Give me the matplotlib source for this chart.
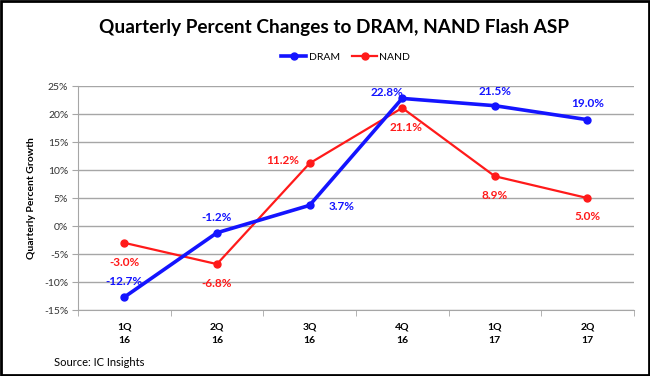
import matplotlib
matplotlib.use("Agg")
import matplotlib.pyplot as plt
import matplotlib.patches as mpatches

plt.rcParams["font.family"] = ["Lato", "DejaVu Sans"]

quarters = ["1Q\n16", "2Q\n16", "3Q\n16", "4Q\n16", "1Q\n17", "2Q\n17"]
dram = [-12.7, -1.2, 3.7, 22.8, 21.5, 19.0]
nand = [-3.0, -6.8, 11.2, 21.1, 8.9, 5.0]

# label offsets in points (dx, dy) for each data label
dram_off = [(0, 11.5), (0, 11), (23, -1), (-11, 4), (0, 10), (0, 11.5)]
nand_off = [(0, -14), (0, -14), (-19.5, 2), (3, -14), (0, -14), (0, -13)]

BLUE = "#1414ff"
RED = "#ff1a1a"

fig = plt.figure(figsize=(6.5, 3.76), dpi=100)
ax = fig.add_axes([0.12, 0.1755, 0.855, 0.5955])

x = list(range(len(quarters)))
ax.plot(x, dram, color=BLUE, lw=2.6, marker="o", ms=5, label="DRAM", zorder=4)
ax.plot(x, nand, color=RED, lw=1.6, marker="o", ms=5, label="NAND", zorder=3)

for i, v in enumerate(dram):
    ax.annotate(f"{v:.1f}%", (i, v), xytext=dram_off[i], textcoords="offset points",
                ha="center", va="center", color=BLUE, fontsize=8.5, fontweight="bold")
for i, v in enumerate(nand):
    ax.annotate(f"{v:.1f}%", (i, v), xytext=nand_off[i], textcoords="offset points",
                ha="center", va="center", color=RED, fontsize=8.5, fontweight="bold")

ax.set_xlim(-0.5, len(quarters) - 0.5)
ax.set_ylim(-15, 25)
ax.set_yticks(range(-15, 26, 5))
ax.set_yticklabels([f"{t}%" for t in range(-15, 26, 5)], fontsize=7.5, color="#333333")
ax.yaxis.grid(True, color="#a6a6a6", lw=1.0)
ax.set_axisbelow(True)

ax.set_xticks(x)
ax.set_xticklabels(quarters, fontsize=7.5, fontweight="bold", linespacing=1.7)
ax.set_xticks([i + 0.5 for i in range(-1, len(quarters))], minor=True)
ax.tick_params(axis="x", which="major", length=0, pad=9)
ax.tick_params(axis="x", which="minor", length=4, color="#a6a6a6", direction="out")
ax.tick_params(axis="y", length=4, color="#a6a6a6", pad=3)

for side in ("top", "right"):
    ax.spines[side].set_visible(False)
for side in ("left", "bottom"):
    ax.spines[side].set_color("#a6a6a6")

ax.set_ylabel("Quarterly Percent Growth", fontsize=7.5, fontweight="bold", labelpad=6)

fig.text(0.514, 0.928, "Quarterly Percent Changes to DRAM, NAND Flash ASP",
         ha="center", va="center", fontsize=13.7, fontweight="bold")
fig.legend(loc="center", bbox_to_anchor=(0.532, 0.848), ncol=2, frameon=False,
           fontsize=7.5, handlelength=2.4, columnspacing=1.2, handletextpad=0.2)
fig.text(0.083, 0.037, "Source: IC Insights", fontsize=8, va="center")

fig.patches.append(mpatches.Rectangle((0.002, 0.003), 0.996, 0.994, transform=fig.transFigure,
                                      fill=False, edgecolor="black", lw=2))

fig.savefig("out.png", dpi=100, facecolor="white")
